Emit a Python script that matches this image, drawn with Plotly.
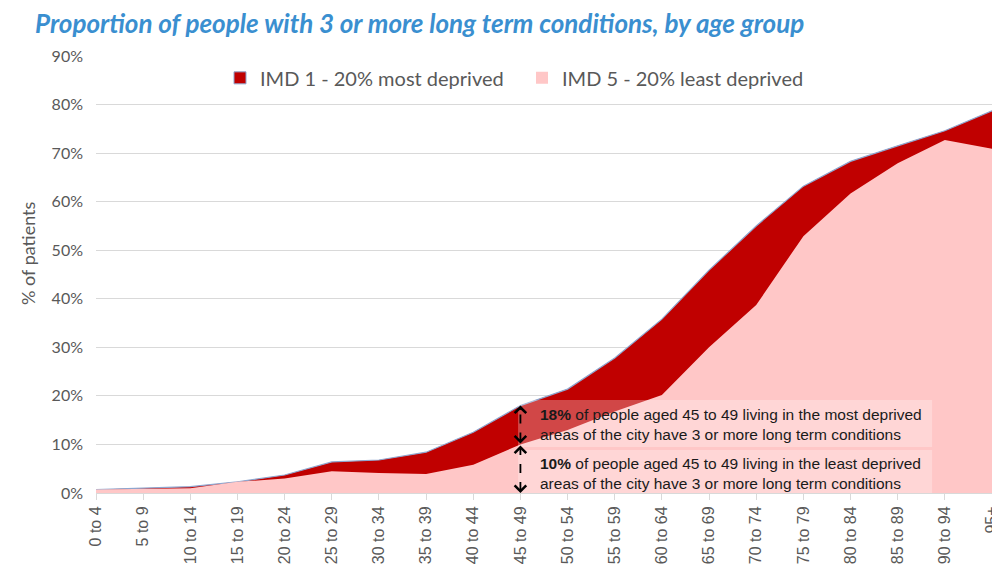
import plotly.graph_objects as go

age_groups = ["0 to 4", "5 to 9", "10 to 14", "15 to 19", "20 to 24", "25 to 29", "30 to 34",
              "35 to 39", "40 to 44", "45 to 49", "50 to 54", "55 to 59", "60 to 64", "65 to 69",
              "70 to 74", "75 to 79", "80 to 84", "85 to 89", "90 to 94", "95+"]
imd1_most_deprived = [0.007, 0.010, 0.013, 0.023, 0.037, 0.064, 0.068, 0.084, 0.125, 0.18,
                      0.214, 0.278, 0.358, 0.459, 0.550, 0.632, 0.683, 0.715, 0.746, 0.787]
imd5_least_deprived = [0.007, 0.009, 0.010, 0.023, 0.030, 0.045, 0.041, 0.039, 0.058, 0.10,
                       0.130, 0.168, 0.202, 0.300, 0.387, 0.529, 0.617, 0.679, 0.727, 0.709]

GRAY = "#595959"
DARK = "#C00000"
PINK = "#FFC7C7"
W, H = 992, 559
fig = go.Figure()
fig.add_trace(go.Scatter(
    x=age_groups, y=imd1_most_deprived, name="IMD 1 - 20% most deprived", showlegend=False,
    mode="lines", fill="tozeroy", fillcolor=DARK,
    line=dict(color="#8EA6CF", width=1.2)))
fig.add_trace(go.Scatter(
    x=age_groups, y=imd5_least_deprived, name="IMD 5 - 20% least deprived", showlegend=False,
    mode="lines", fill="tozeroy", fillcolor=PINK,
    line=dict(color=PINK, width=0)))
# legend entries (square swatches)
fig.add_trace(go.Bar(x=[None], y=[None], name="IMD 1 - 20% most deprived",
                     marker=dict(color=DARK, line=dict(color="#8EA6CF", width=1))))
fig.add_trace(go.Bar(x=[None], y=[None], name="IMD 5 - 20% least deprived",
                     marker=dict(color=PINK, line=dict(color=PINK, width=0))))

# annotation boxes
for y0, y1 in [(0.0947, 0.1915), (-0.008, 0.0885)]:
    fig.add_shape(type="rect", xref="x", yref="y", x0=8.95, x1=17.73, y0=y0, y1=y1,
                  fillcolor="rgba(255,255,255,0.28)", line=dict(width=0), layer="above")

txt_font = dict(family="Liberation Sans, Arial", size=15.5, color="#1a1a1a")
fig.add_annotation(x=9.37, y=0.142, xref="x", yref="y", xanchor="left", yanchor="middle",
                   align="left", showarrow=False, font=txt_font,
                   text="<b>18%</b> of people aged 45 to 49 living in the most deprived<br>areas of the city have 3 or more long term conditions")
fig.add_annotation(x=9.37, y=0.041, xref="x", yref="y", xanchor="left", yanchor="middle",
                   align="left", showarrow=False, font=txt_font,
                   text="<b>10%</b> of people aged 45 to 49 living in the least deprived<br>areas of the city have 3 or more long term conditions")

# dashed double arrows
for ytop, ybot in [(0.180, 0.102), (0.098, 0.0)]:
    fig.add_shape(type="line", xref="x", yref="y", x0=9, x1=9, y0=ybot + 0.004, y1=ytop - 0.004,
                  line=dict(color="black", width=1.8, dash="dash"), layer="above")
    fig.add_annotation(x=9, y=ytop, ax=9, ay=ytop - 0.012, xref="x", yref="y", axref="x", ayref="y",
                       showarrow=True, arrowhead=4, arrowsize=1.4, arrowwidth=1.6, arrowcolor="black", text="")
    fig.add_annotation(x=9, y=ybot, ax=9, ay=ybot + 0.012, xref="x", yref="y", axref="x", ayref="y",
                       showarrow=True, arrowhead=4, arrowsize=1.4, arrowwidth=1.6, arrowcolor="black", text="")

fig.add_annotation(x=(20 - 88) / 896, y=(485 - 245) / 437, xref="paper", yref="paper",
                   xanchor="center", yanchor="middle", showarrow=False, text="% of patients",
                   textangle=-90, font=dict(family="Lato, Carlito, sans-serif", size=18, color=GRAY))

fig.update_layout(
    width=W, height=H,
    paper_bgcolor="white", plot_bgcolor="white",
    margin=dict(l=88, r=8, t=48, b=H - 485, autoexpand=False),
    title=dict(text="<b><i>Proportion of people with 3 or more long term conditions, by age group</i></b>",
               x=27 / W, xanchor="left", xref="container", y=1 - 15.5 / H, yanchor="middle", yref="container",
               font=dict(family="Lato, Carlito, sans-serif", size=26, color="#3A8FD0")),
    showlegend=True,
    legend=dict(orientation="h", x=(220 - 96) / 896, xanchor="left", y=0.95, yanchor="middle",
                font=dict(family="Lato, Carlito, sans-serif", size=20, color=GRAY),
                bgcolor="rgba(0,0,0,0)", entrywidth=257, itemwidth=30, traceorder="normal"),
    xaxis=dict(type="category", range=[0, 19], showgrid=False, showline=True, linecolor="#D9D9D9",
               ticks="outside", ticklen=6, tickcolor="#D9D9D9", tickangle=-90,
               tickfont=dict(family="Liberation Sans, Arial", size=16, color=GRAY), automargin=False),
    yaxis=dict(range=[0, 0.9], dtick=0.1, tickformat=".0%", showgrid=True, gridcolor="#D9D9D9",
               zeroline=False, ticks="", ticklabelstandoff=12,
               tickfont=dict(family="Lato, Carlito, sans-serif", size=16, color=GRAY), automargin=False),
)

fig.write_html("out.html")
